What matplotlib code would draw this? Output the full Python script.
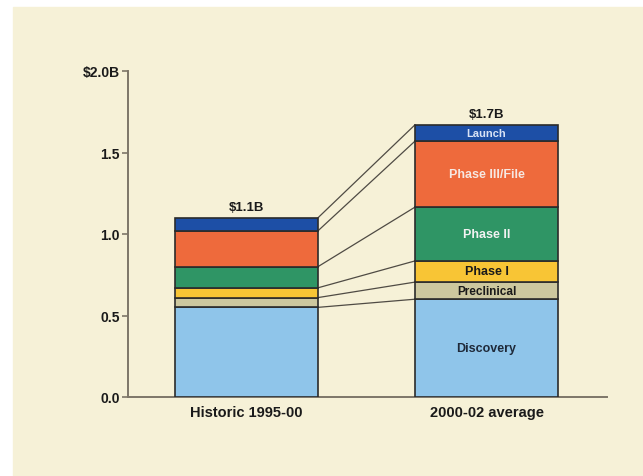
import matplotlib.pyplot as plt
import numpy as np

plt.rcParams['font.family'] = ['Liberation Sans', 'DejaVu Sans']

# R&D cost per approved drug, split by stage ($B)
periods = ["Historic 1995-00", "2000-02 average"]
stages = ["Discovery", "Preclinical", "Phase I", "Phase II", "Phase III/File", "Launch"]
historic = [0.55, 0.06, 0.06, 0.13, 0.22, 0.08]
recent = [0.60, 0.105, 0.13, 0.33, 0.405, 0.10]
totals = ["$1.1B", "$1.7B"]

colors = ["#8fc5ea", "#cdc89f", "#f8c535", "#2f9565", "#ee6a3c", "#1d4fa6"]
text_colors = ["#1f2a3a", "#1a1a1a", "#1a1a1a", "#f2f2f2", "#f6e8e2", "#d8e2f5"]
text_sizes = [9, 8.5, 9, 9, 9, 8]

bg = "#f6f1d7"
edge = "#2b2b2b"
axis_col = "#7d7668"
width = 0.596

fig = plt.figure(figsize=(6.43, 4.77), dpi=100)
fig.patch.set_facecolor("white")
panel = plt.Rectangle((13 / 643, 0), 1, 1 - 8 / 477,
                      transform=fig.transFigure, color=bg, zorder=-10)
fig.add_artist(panel)

ax = fig.add_axes([128 / 643, 1 - 398 / 477, 479 / 643, 326 / 477])
ax.set_facecolor("none")

xs = np.arange(len(periods))
bottoms = np.zeros(2)
for i, stage in enumerate(stages):
    vals = np.array([historic[i], recent[i]])
    ax.bar(xs, vals, width, bottom=bottoms, color=colors[i],
           edgecolor=edge, linewidth=1.2, zorder=3)
    # label only the newer bar
    ax.text(xs[1], bottoms[1] + vals[1] / 2, stage, ha="center", va="center",
            fontsize=text_sizes[i], fontweight="bold", color=text_colors[i], zorder=4)
    bottoms = bottoms + vals

# connector lines between matching stage boundaries
cum_h = np.cumsum(historic)
cum_r = np.cumsum(recent)
for a, b in zip(cum_h, cum_r):
    ax.plot([xs[0] + width / 2, xs[1] - width / 2], [a, b],
            color="#4f4b44", linewidth=0.9, zorder=2)

for x, total, lab in zip(xs, [cum_h[-1], cum_r[-1]], totals):
    ax.text(x, total + 0.03, lab, ha="center", va="bottom",
            fontsize=9.5, fontweight="bold", color="#1a1a1a")

ax.set_xlim(-0.494, 1.502)
ax.set_ylim(0, 2.0)
ax.set_yticks([0, 0.5, 1.0, 1.5, 2.0])
ax.set_yticklabels(["0.0", "0.5", "1.0", "1.5", "$2.0B"], fontweight="bold",
                   fontsize=10, color="#1a1a1a")
ax.set_xticks(xs)
ax.set_xticklabels(periods, fontweight="bold", fontsize=10.5, color="#1a1a1a")
ax.tick_params(axis="x", length=0, pad=6)
ax.tick_params(axis="y", length=4, width=1.2, color=axis_col, pad=2)

for side in ["top", "right"]:
    ax.spines[side].set_visible(False)
for side in ["left", "bottom"]:
    ax.spines[side].set_color(axis_col)
    ax.spines[side].set_linewidth(1.4)

fig.savefig("out.png", dpi=100, facecolor=fig.get_facecolor())
